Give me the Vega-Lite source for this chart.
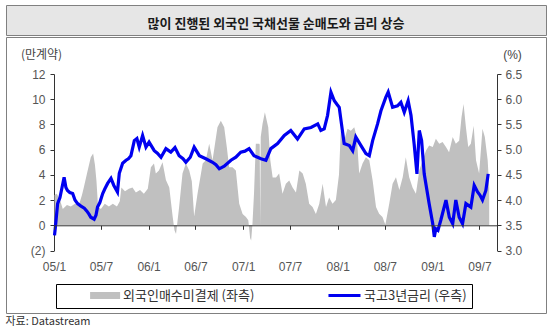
{
  "$schema": "https://vega.github.io/schema/vega-lite/v6.json",
  "padding": {"left": 5, "top": 4, "right": 5, "bottom": 0},
  "config": {
    "font": "Liberation Sans, Noto Sans CJK KR, sans-serif",
    "view": {"stroke": "#808080"}
  },
  "datasets": {
    "futures": [
      {"date":"2005-01-03","contracts":2.4},{"date":"2005-01-12","contracts":2.5},{"date":"2005-01-24","contracts":2.0},{"date":"2005-02-04","contracts":1.3},{"date":"2005-02-20","contracts":1.6},{"date":"2005-03-07","contracts":1.5},{"date":"2005-03-23","contracts":1.7},{"date":"2005-04-07","contracts":1.6},{"date":"2005-04-19","contracts":2.4},{"date":"2005-04-26","contracts":3.0},{"date":"2005-05-11","contracts":4.35},{"date":"2005-05-23","contracts":5.4},{"date":"2005-06-01","contracts":5.7},{"date":"2005-06-08","contracts":4.8},{"date":"2005-06-14","contracts":3.5},{"date":"2005-06-20","contracts":1.5},{"date":"2005-07-01","contracts":1.3},{"date":"2005-07-16","contracts":1.7},{"date":"2005-08-01","contracts":1.5},{"date":"2005-08-16","contracts":1.7},{"date":"2005-09-01","contracts":1.5},{"date":"2005-09-12","contracts":1.9},{"date":"2005-09-18","contracts":3.0},{"date":"2005-10-02","contracts":2.7},{"date":"2005-10-17","contracts":2.9},{"date":"2005-10-31","contracts":3.0},{"date":"2005-11-13","contracts":2.6},{"date":"2005-11-29","contracts":2.8},{"date":"2005-12-14","contracts":2.5},{"date":"2005-12-29","contracts":2.9},
      {"date":"2006-01-10","contracts":4.6},{"date":"2006-01-22","contracts":4.9},{"date":"2006-01-29","contracts":4.1},{"date":"2006-02-10","contracts":4.35},{"date":"2006-02-24","contracts":5.0},{"date":"2006-03-09","contracts":3.6},{"date":"2006-03-22","contracts":3.0},{"date":"2006-04-04","contracts":0.7},{"date":"2006-04-11","contracts":-0.4},{"date":"2006-04-17","contracts":-0.7},{"date":"2006-04-22","contracts":0.2},{"date":"2006-04-29","contracts":1.45},{"date":"2006-05-12","contracts":4.1},{"date":"2006-05-25","contracts":4.9},{"date":"2006-06-07","contracts":4.35},{"date":"2006-06-17","contracts":3.5},{"date":"2006-06-26","contracts":0.7},{"date":"2006-07-09","contracts":2.5},{"date":"2006-07-29","contracts":4.9},{"date":"2006-08-10","contracts":5.15},{"date":"2006-08-23","contracts":6.46},{"date":"2006-09-05","contracts":5.15},{"date":"2006-09-24","contracts":7.78},{"date":"2006-10-07","contracts":8.3},{"date":"2006-10-20","contracts":7.78},{"date":"2006-10-30","contracts":6.2},{"date":"2006-11-08","contracts":4.6},{"date":"2006-11-21","contracts":4.6},{"date":"2006-12-04","contracts":4.35},{"date":"2006-12-17","contracts":1.7},{"date":"2006-12-30","contracts":0.9},
      {"date":"2007-01-12","contracts":0.66},{"date":"2007-01-21","contracts":0.4},{"date":"2007-01-28","contracts":-1.0},{"date":"2007-02-01","contracts":-1.2},{"date":"2007-02-06","contracts":0.1},{"date":"2007-02-12","contracts":2.5},{"date":"2007-02-19","contracts":6.46},{"date":"2007-03-04","contracts":6.46},{"date":"2007-03-06","contracts":6.4},{"date":"2007-03-08","contracts":0},{"date":"2007-03-10","contracts":7.0},{"date":"2007-03-17","contracts":8.05},{"date":"2007-03-26","contracts":8.96},{"date":"2007-04-08","contracts":7.78},{"date":"2007-04-16","contracts":5.15},{"date":"2007-04-25","contracts":3.8},{"date":"2007-05-08","contracts":3.8},{"date":"2007-05-20","contracts":4.1},{"date":"2007-06-02","contracts":2.5},{"date":"2007-06-15","contracts":3.3},{"date":"2007-06-28","contracts":3.56},{"date":"2007-07-11","contracts":3.0},{"date":"2007-07-24","contracts":2.6},{"date":"2007-08-06","contracts":4.35},{"date":"2007-08-19","contracts":4.1},{"date":"2007-08-31","contracts":3.3},{"date":"2007-09-13","contracts":1.7},{"date":"2007-09-26","contracts":1.45},{"date":"2007-10-09","contracts":0.9},{"date":"2007-10-22","contracts":1.7},{"date":"2007-11-04","contracts":3.3},{"date":"2007-11-17","contracts":1.45},{"date":"2007-11-29","contracts":2.2},{"date":"2007-12-12","contracts":1.7},{"date":"2007-12-25","contracts":2.0},
      {"date":"2008-01-06","contracts":4.0},{"date":"2008-01-13","contracts":7.5},{"date":"2008-01-26","contracts":6.7},{"date":"2008-02-08","contracts":7.65},{"date":"2008-02-21","contracts":7.5},{"date":"2008-03-05","contracts":7.78},{"date":"2008-03-15","contracts":7.0},{"date":"2008-03-24","contracts":4.1},{"date":"2008-04-06","contracts":4.9},{"date":"2008-04-19","contracts":5.4},{"date":"2008-05-02","contracts":5.15},{"date":"2008-05-15","contracts":3.56},{"date":"2008-05-28","contracts":1.45},{"date":"2008-06-09","contracts":0.92},{"date":"2008-06-22","contracts":0.66},{"date":"2008-07-03","contracts":0.05},{"date":"2008-07-18","contracts":1.7},{"date":"2008-07-31","contracts":3.3},{"date":"2008-08-13","contracts":3.82},{"date":"2008-08-26","contracts":2.8},{"date":"2008-09-08","contracts":3.82},{"date":"2008-09-20","contracts":5.4},{"date":"2008-10-03","contracts":3.82},{"date":"2008-10-16","contracts":3.0},{"date":"2008-10-29","contracts":2.5},{"date":"2008-11-11","contracts":4.35},{"date":"2008-11-24","contracts":5.15},{"date":"2008-12-07","contracts":5.93},{"date":"2008-12-19","contracts":6.33},
      {"date":"2009-01-02","contracts":6.2},{"date":"2009-01-14","contracts":6.86},{"date":"2009-01-27","contracts":6.46},{"date":"2009-02-09","contracts":6.6},{"date":"2009-02-22","contracts":6.2},{"date":"2009-03-06","contracts":5.8},{"date":"2009-03-20","contracts":7.0},{"date":"2009-04-01","contracts":6.46},{"date":"2009-04-14","contracts":6.7},{"date":"2009-04-23","contracts":8.57},{"date":"2009-05-01","contracts":9.63},{"date":"2009-05-10","contracts":7.78},{"date":"2009-05-19","contracts":6.2},{"date":"2009-05-29","contracts":6.46},{"date":"2009-06-09","contracts":7.9},{"date":"2009-06-18","contracts":5.15},{"date":"2009-06-30","contracts":4.1},{"date":"2009-07-13","contracts":7.65},{"date":"2009-07-22","contracts":7.0},{"date":"2009-08-02","contracts":5.15},{"date":"2009-08-08","contracts":3.0}
    ],
    "yield": [
      {"date":"2005-01-03","rate":3.30},{"date":"2005-01-08","rate":3.55},{"date":"2005-01-15","rate":3.93},{"date":"2005-01-24","rate":4.05},{"date":"2005-02-01","rate":4.25},{"date":"2005-02-09","rate":4.45},{"date":"2005-02-16","rate":4.25},{"date":"2005-02-22","rate":4.19},{"date":"2005-03-03","rate":4.15},{"date":"2005-03-14","rate":4.13},{"date":"2005-03-23","rate":4.0},{"date":"2005-04-02","rate":3.93},{"date":"2005-04-15","rate":3.88},{"date":"2005-04-28","rate":3.84},{"date":"2005-05-08","rate":3.78},{"date":"2005-05-16","rate":3.72},{"date":"2005-05-23","rate":3.66},{"date":"2005-06-05","rate":3.62},{"date":"2005-06-12","rate":3.70},{"date":"2005-06-18","rate":3.86},{"date":"2005-06-27","rate":3.95},{"date":"2005-07-08","rate":4.13},{"date":"2005-07-16","rate":4.22},{"date":"2005-07-27","rate":4.33},{"date":"2005-08-09","rate":4.43},{"date":"2005-08-20","rate":4.29},{"date":"2005-09-03","rate":4.16},{"date":"2005-09-10","rate":4.53},{"date":"2005-09-23","rate":4.73},{"date":"2005-10-06","rate":4.79},{"date":"2005-10-15","rate":4.82},{"date":"2005-10-25","rate":4.88},{"date":"2005-11-07","rate":5.18},{"date":"2005-11-17","rate":5.22},{"date":"2005-11-26","rate":5.05},{"date":"2005-12-09","rate":5.28},{"date":"2005-12-22","rate":5.05},
      {"date":"2006-01-03","rate":5.15},{"date":"2006-01-23","rate":4.98},{"date":"2006-02-04","rate":4.93},{"date":"2006-02-18","rate":4.85},{"date":"2006-03-09","rate":5.02},{"date":"2006-03-28","rate":4.95},{"date":"2006-04-13","rate":5.04},{"date":"2006-04-29","rate":4.88},{"date":"2006-05-14","rate":4.82},{"date":"2006-05-25","rate":4.75},{"date":"2006-06-11","rate":4.85},{"date":"2006-06-26","rate":5.05},{"date":"2006-07-16","rate":4.88},{"date":"2006-08-10","rate":4.82},{"date":"2006-09-05","rate":4.75},{"date":"2006-09-18","rate":4.70},{"date":"2006-10-01","rate":4.62},{"date":"2006-10-20","rate":4.67},{"date":"2006-11-15","rate":4.79},{"date":"2006-12-04","rate":4.85},{"date":"2006-12-23","rate":4.95},
      {"date":"2007-01-08","rate":4.97},{"date":"2007-01-24","rate":5.02},{"date":"2007-02-12","rate":4.88},{"date":"2007-03-11","rate":4.82},{"date":"2007-03-30","rate":4.79},{"date":"2007-04-18","rate":5.02},{"date":"2007-05-14","rate":5.12},{"date":"2007-06-09","rate":5.28},{"date":"2007-07-04","rate":5.38},{"date":"2007-07-30","rate":5.21},{"date":"2007-08-25","rate":5.41},{"date":"2007-09-20","rate":5.44},{"date":"2007-10-16","rate":5.51},{"date":"2007-10-28","rate":5.38},{"date":"2007-11-10","rate":5.41},{"date":"2007-11-23","rate":5.68},{"date":"2007-12-06","rate":6.14},{"date":"2007-12-19","rate":5.97},{"date":"2007-12-29","rate":5.90},
      {"date":"2008-01-07","rate":5.84},{"date":"2008-01-13","rate":5.61},{"date":"2008-01-26","rate":5.12},{"date":"2008-02-15","rate":5.08},{"date":"2008-02-28","rate":4.98},{"date":"2008-03-11","rate":5.25},{"date":"2008-03-31","rate":5.08},{"date":"2008-04-19","rate":4.92},{"date":"2008-05-02","rate":4.88},{"date":"2008-05-15","rate":5.18},{"date":"2008-06-03","rate":5.51},{"date":"2008-06-16","rate":5.77},{"date":"2008-07-05","rate":6.04},{"date":"2008-07-14","rate":6.14},{"date":"2008-07-31","rate":5.84},{"date":"2008-08-19","rate":5.87},{"date":"2008-09-01","rate":5.94},{"date":"2008-09-14","rate":5.74},{"date":"2008-09-29","rate":5.97},{"date":"2008-10-10","rate":5.68},{"date":"2008-10-22","rate":5.12},{"date":"2008-11-02","rate":4.52},{"date":"2008-11-11","rate":5.38},{"date":"2008-11-20","rate":5.18},{"date":"2008-11-30","rate":4.52},{"date":"2008-12-19","rate":3.93},
      {"date":"2009-01-02","rate":3.53},{"date":"2009-01-08","rate":3.27},{"date":"2009-01-14","rate":3.43},{"date":"2009-01-22","rate":3.40},{"date":"2009-02-02","rate":3.60},{"date":"2009-02-22","rate":4.00},{"date":"2009-03-07","rate":3.66},{"date":"2009-03-20","rate":3.53},{"date":"2009-04-01","rate":4.00},{"date":"2009-04-14","rate":3.66},{"date":"2009-04-27","rate":3.53},{"date":"2009-05-10","rate":3.93},{"date":"2009-05-29","rate":3.86},{"date":"2009-06-11","rate":4.29},{"date":"2009-06-24","rate":4.16},{"date":"2009-07-03","rate":4.10},{"date":"2009-07-13","rate":4.00},{"date":"2009-07-26","rate":4.19},{"date":"2009-08-04","rate":4.52}
    ]
  },
  "title": {"text": "자료: Datastream", "orient": "bottom", "anchor": "start", "offset": 2, "fontSize": 11, "fontWeight": "normal", "color": "#333333", "font": "Noto Sans CJK KR"},
  "spacing": 0,
  "vconcat": [
    {
      "width": 540,
      "height": 30,
      "view": {"fill": "#e6e6e6", "stroke": "#808080"},
      "data": {"values": [{}]},
      "mark": {"type": "text", "text": "많이 진행된 외국인 국채선물 순매도와 금리 상승", "font": "Noto Sans CJK KR", "fontSize": 13, "fontWeight": "bold", "color": "#1a1a1a", "dy": 4},
      "encoding": {}
    },
    {
      "width": 540,
      "height": 276,
      "view": {"stroke": "#808080"},
      "resolve": {"scale": {"y": "independent"}, "axis": {"y": "independent"}},
      "layer": [
        {
          "data": {"name": "futures"},
          "mark": {"type": "area", "interpolate": "linear"},
          "encoding": {
            "x": {
              "field": "date", "type": "temporal",
              "scale": {"domain": [{"year": 2005, "month": 1, "date": 1}, {"year": 2009, "month": 9, "date": 7}], "range": [48, 491], "nice": false},
              "axis": {
                "orient": "bottom", "offset": -87.7,
                "values": [{"year":2005,"month":1,"date":1},{"year":2005,"month":7,"date":1},{"year":2006,"month":1,"date":1},{"year":2006,"month":7,"date":1},{"year":2007,"month":1,"date":1},{"year":2007,"month":7,"date":1},{"year":2008,"month":1,"date":1},{"year":2008,"month":7,"date":1},{"year":2009,"month":1,"date":1},{"year":2009,"month":7,"date":1}],
                "format": "%y/%-m", "labelPadding": 32, "tickSize": 4,
                "domainColor": "#333333", "tickColor": "#333333", "labelColor": "#555555",
                "labelFontSize": 12, "labelFont": "Liberation Sans", "labelFlush": false, "labelOverlap": false,
                "grid": false, "title": null, "zindex": 1
              }
            },
            "y": {
              "field": "contracts", "type": "quantitative",
              "scale": {"domain": [-2, 12], "range": [213.5, 37], "nice": false},
              "axis": {
                "orient": "left", "offset": -48, "values": [-2, 0, 2, 4, 6, 8, 10, 12],
                "labelExpr": "datum.value < 0 ? '(' + abs(datum.value) + ')' : datum.label",
                "tickSize": 4, "labelPadding": 5, "domainColor": "#333333", "tickColor": "#333333",
                "labelColor": "#555555", "labelFontSize": 12, "labelFont": "Liberation Sans", "labelFlush": false,
                "grid": false, "title": "(만계약)", "titleAngle": 0, "titleX": -13, "titleY": 17,
                "titleAlign": "center", "titleBaseline": "middle", "titleFont": "Noto Sans CJK KR",
                "titleFontSize": 12, "titleFontWeight": "normal", "titleColor": "#444444"
              }
            },
            "fill": {
              "datum": "외국인매수미결제 (좌측)", "type": "nominal",
              "scale": {"range": ["#c0c0c0"]},
              "legend": {
                "orient": "none", "legendX": 50, "legendY": 279, "title": null, "padding": 5,
                "symbolSize": 3600, "clipHeight": 13, "symbolType": "M-0.03,-0.12H0.97V0.12H-0.03Z",
                "symbolStrokeWidth": 0, "labelOffset": 2,
                "labelFontSize": 13, "labelFont": "Noto Sans CJK KR", "labelColor": "#333333", "labelLimit": 300
              }
            }
          }
        },
        {
          "data": {"name": "yield"},
          "mark": {"type": "line", "strokeWidth": 3.2},
          "encoding": {
            "x": {"field": "date", "type": "temporal"},
            "y": {
              "field": "rate", "type": "quantitative",
              "scale": {"domain": [3, 6.5], "range": [213.5, 37], "nice": false, "zero": false},
              "axis": {
                "orient": "right", "offset": -49, "values": [3, 3.5, 4, 4.5, 5, 5.5, 6, 6.5], "format": ".1f",
                "tickSize": 4, "labelPadding": 4, "domainColor": "#333333", "tickColor": "#333333",
                "labelColor": "#555555", "labelFontSize": 12, "labelFont": "Liberation Sans", "labelFlush": false,
                "grid": false, "title": "(%)", "titleAngle": 0, "titleX": 15, "titleY": 17,
                "titleAlign": "center", "titleBaseline": "middle", "titleFont": "Liberation Sans",
                "titleFontSize": 12, "titleFontWeight": "normal", "titleColor": "#444444"
              }
            },
            "stroke": {
              "datum": "국고3년금리 (우측)", "type": "nominal",
              "scale": {"range": ["#0000f0"]},
              "legend": {
                "orient": "none", "legendX": 50, "legendY": 279, "title": null, "padding": 5,
                "strokeColor": "#000000",
                "symbolSize": 88804, "clipHeight": 13, "symbolType": "M0.785,0H1",
                "symbolStrokeWidth": 3, "labelOffset": 2,
                "labelFontSize": 13, "labelFont": "Noto Sans CJK KR", "labelColor": "#333333", "labelLimit": 400,
                "labelExpr": "datum.label + '          '"
              }
            }
          }
        }
      ]
    }
  ]
}
